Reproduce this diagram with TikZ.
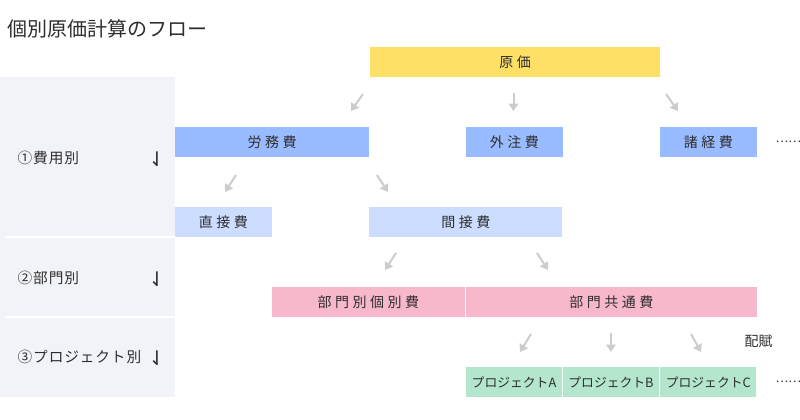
\documentclass[tikz,border=0pt]{standalone}
\usepackage{fontspec}
\usetikzlibrary{arrows.meta}
\newfontfamily\jp{Noto Sans CJK JP}
\newfontfamily\jpw[LetterSpace=25]{Noto Sans CJK JP}
\newfontfamily\jps[LetterSpace=6]{Noto Sans CJK JP}
\newfontfamily\djsans{DejaVu Sans}
\definecolor{cyel}{HTML}{FFE066}
\definecolor{cblue}{HTML}{99BBFF}
\definecolor{clblue}{HTML}{CCDDFF}
\definecolor{cpink}{HTML}{F8B8CC}
\definecolor{cgreen}{HTML}{B3E6CC}
\definecolor{cpanel}{HTML}{F2F3F8}
\definecolor{carrow}{HTML}{CCCCCC}
\definecolor{ctext}{HTML}{2E2E2E}
\begin{document}
\begin{tikzpicture}[x=0.75pt,y=-0.75pt,
  box/.style={rectangle,inner sep=0pt,minimum height=22.5pt,text=ctext,font=\jpw\fontsize{10.5}{12}\selectfont},
  pbox/.style={box,fill=cgreen,font=\jp\fontsize{9.6}{11}\selectfont},
  flow/.style={draw=carrow,line width=1.5pt,-{Triangle[length=5.5pt,width=7pt]}},
  side/.style={anchor=west,text=ctext,font=\jps\fontsize{11}{13}\selectfont},
  harp/.style={text=ctext,font=\djsans\fontsize{15}{17}\selectfont},
  dots/.style={anchor=west,text=ctext,font=\jp\fontsize{9}{11}\selectfont}]
\useasboundingbox (0,0) rectangle (800,420);
% title
\node[anchor=west,text=ctext,font=\jp\fontsize{15}{18}\selectfont] (title) at (3,28.5) {個別原価計算のフロー};
% left panel
\fill[cpanel] (0,77) rectangle (175,397);
\draw[white,line width=1pt] (5,237) -- (175,237);
\draw[white,line width=1pt] (5,317) -- (175,317);
\node[side] (s1) at (13,158) {①費用別};
\node[side] (s2) at (13,278) {②部門別};
\node[side] (s3) at (13,357) {③プロジェクト別};
\node[harp] (h1) at (157,159) {⇃};
\node[harp] (h2) at (157,279) {⇃};
\node[harp] (h3) at (157,358) {⇃};
% boxes
\node[box,fill=cyel,minimum width=217.5pt] (genka) at (515,62) {原価};
\node[box,fill=cblue,minimum width=145.5pt] (roumu) at (272,142) {労務費};
\node[box,fill=cblue,minimum width=72.5pt] (gaichu) at (514.3,142) {外注費};
\node[box,fill=cblue,minimum width=72.5pt] (shokei) at (708.3,142) {諸経費};
\node[box,fill=clblue,minimum width=72.5pt] (choku) at (223.3,222) {直接費};
\node[box,fill=clblue,minimum width=145pt] (kan) at (465.8,222) {間接費};
\node[box,fill=cpink,minimum width=144.5pt] (kobetsu) at (368.3,302) {部門別個別費};
\node[box,fill=cpink,minimum width=218pt] (kyotsu) at (611.3,302) {部門共通費};
\node[pbox,minimum width=72pt] (pa) at (514,382) {プロジェクトA};
\node[pbox,minimum width=72pt] (pb) at (611,382) {プロジェクトB};
\node[pbox,minimum width=72pt] (pc) at (708.3,382) {プロジェクトC};
\node[dots] (d1) at (771,142) {……};
\node[dots] (d2) at (771,382) {……};
\node[anchor=west,text=ctext,font=\jp\fontsize{10.5}{12}\selectfont] (haifu) at (740,341.5) {配賦};
% arrows
\coordinate (a1s) at (363,94);  \coordinate (a1e) at (351,111);
\coordinate (a2s) at (513.5,93); \coordinate (a2e) at (513.5,111);
\coordinate (a3s) at (666,94);  \coordinate (a3e) at (678,111);
\coordinate (b1s) at (236,175); \coordinate (b1e) at (225,192);
\coordinate (b2s) at (377,175); \coordinate (b2e) at (388,192);
\coordinate (c1s) at (396,253); \coordinate (c1e) at (385,270);
\coordinate (c2s) at (537,253); \coordinate (c2e) at (548,270);
\coordinate (e1s) at (531,334); \coordinate (e1e) at (520,352);
\coordinate (e2s) at (611,333); \coordinate (e2e) at (611,352);
\coordinate (e3s) at (691,334); \coordinate (e3e) at (701,352);
\foreach \p in {a1,a2,a3,b1,b2,c1,c2,e1,e2,e3}{\draw[flow] (\p s) -- (\p e);}
\end{tikzpicture}
\end{document}
